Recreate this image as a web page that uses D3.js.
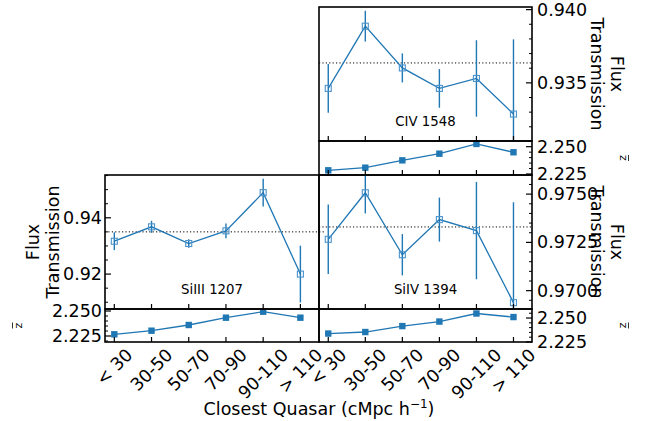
<!DOCTYPE html>
<html><head><meta charset="utf-8">
<script src="https://cdn.jsdelivr.net/npm/d3@7"></script>
<style>body{margin:0;background:#fff} text{font-family:"DejaVu Sans",sans-serif;fill:#000}</style>
</head><body><svg id="c" width="651" height="421"></svg>
<script>
// ---------------- data ----------------
const categories = ["< 30", "30-50", "50-70", "70-90", "90-110", "> 110"];

const civFlux = [0.93462, 0.93887, 0.93602, 0.93462, 0.93530, 0.93287];
const civErr  = [0.00166, 0.00105, 0.00099, 0.00132, 0.00261, 0.00510];
const civMean = 0.93636;
const civZ    = [2.2284, 2.2308, 2.2375, 2.2436, 2.2525, 2.2449];

const siiiiFlux = [0.93168, 0.93679, 0.93086, 0.93536, 0.94893, 0.92000];
const siiiiErr  = [0.00316, 0.00214, 0.00150, 0.00260, 0.00490, 0.01010];
const siiiiMean = 0.9350;
const siiiiZ    = [2.2267, 2.2303, 2.2360, 2.2433, 2.2493, 2.2433];

const sivFlux = [0.97266, 0.97507, 0.97186, 0.97368, 0.97311, 0.96938];
const sivErr  = [0.00180, 0.00107, 0.00107, 0.00114, 0.00252, 0.00520];
const sivMean = 0.9733;
const sivZ    = [2.2338, 2.2354, 2.2416, 2.2463, 2.2547, 2.2510];

const zTicks = [2.225, 2.250];

// ---------------- drawing ----------------
const svg = d3.select("#c");
const blue = "#1f77b4";
const FS = 17.5;
let clipId = 0;

function addClip(x0, y0, x1, y1) {
  const id = "clip" + (clipId++);
  svg.append("clipPath").attr("id", id).append("rect")
    .attr("x", x0).attr("y", y0).attr("width", x1 - x0).attr("height", y1 - y0);
  return "url(#" + id + ")";
}

function yAxis(scale, majors, minorStep, fmt, side, x0, x1) {
  const g = svg.append("g");
  const d = scale.domain();
  const minors = d3.range(Math.ceil(Math.min(...d) / minorStep - 1e-6) * minorStep, Math.max(...d) + 1e-9, minorStep)
    .filter(v => !majors.some(m => Math.abs(m - v) < minorStep / 10));
  const edge = side === "left" ? x0 : x1;
  const dir = side === "left" ? 1 : -1;
  minors.forEach(v => {
    g.append("line").attr("x1", edge).attr("x2", edge + dir * 3)
      .attr("y1", scale(v)).attr("y2", scale(v)).attr("stroke", "#000").attr("stroke-width", 1);
  });
  majors.forEach(v => {
    g.append("line").attr("x1", edge).attr("x2", edge + dir * 6)
      .attr("y1", scale(v)).attr("y2", scale(v)).attr("stroke", "#000").attr("stroke-width", 1.2);
    g.append("text").attr("x", side === "left" ? edge - 3 : edge + 5).attr("y", scale(v))
      .attr("text-anchor", side === "left" ? "end" : "start")
      .attr("dominant-baseline", "central").attr("font-size", FS).text(d3.format(fmt)(v));
  });
}

function xTicks(xs, y) {
  categories.forEach((c, i) => {
    svg.append("line").attr("x1", xs(i)).attr("x2", xs(i)).attr("y1", y).attr("y2", y - 5)
      .attr("stroke", "#000").attr("stroke-width", 1.2);
  });
}

function spine(x0, y0, x1, y1) {
  svg.append("rect").attr("x", x0).attr("y", y0).attr("width", x1 - x0).attr("height", y1 - y0)
    .attr("fill", "none").attr("stroke", "#000").attr("stroke-width", 1.6);
}

function zbar(x, y, rot) {
  const g = svg.append("g").attr("transform", `translate(${x},${y}) rotate(${rot})`);
  g.append("text").attr("x", 0).attr("y", 3.5).attr("text-anchor", "middle")
    .attr("font-size", 11).text("z");
  g.append("line").attr("x1", -3).attr("x2", 3).attr("y1", -5.5).attr("y2", -5.5)
    .attr("stroke", "#000").attr("stroke-width", 0.8);
}

function panel(o) {
  const xs = d3.scaleLinear().domain([-0.25, 5.5]).range([o.x0, o.x1]);
  const ys = d3.scaleLinear().domain(o.fluxDomain).range([o.yb, o.yt]);
  const zs = d3.scaleLinear().domain(o.zDomain).range([o.zb, o.yb]);

  // mean dotted line
  svg.append("line").attr("x1", o.x0).attr("x2", o.x1 + (o.dotExt || 0))
    .attr("y1", ys(o.mean)).attr("y2", ys(o.mean))
    .attr("stroke", "#000").attr("stroke-width", 1).attr("stroke-dasharray", "1.2,2.2");

  const gm = svg.append("g").attr("clip-path", addClip(o.x0, o.yt, o.x1, o.yb));
  o.flux.forEach((v, i) => {
    gm.append("line").attr("x1", xs(i)).attr("x2", xs(i))
      .attr("y1", ys(v - o.err[i])).attr("y2", ys(v + o.err[i]))
      .attr("stroke", blue).attr("stroke-width", 1.4);
  });
  gm.append("path").datum(o.flux)
    .attr("d", d3.line().x((d, i) => xs(i)).y(d => ys(d)))
    .attr("fill", "none").attr("stroke", blue).attr("stroke-width", 1.3);
  gm.selectAll(null).data(o.flux).enter().append("rect")
    .attr("x", (d, i) => xs(i) - 3).attr("y", d => ys(d) - 3)
    .attr("width", 6).attr("height", 6)
    .attr("fill", "none").attr("stroke", "#4a93cc").attr("stroke-width", 1.1);

  svg.append("text").attr("x", (o.x0 + o.x1) / 2).attr("y", o.yt + 0.885 * (o.yb - o.yt))
    .attr("text-anchor", "middle").attr("font-size", 13.3).text(o.label);

  const gz = svg.append("g").attr("clip-path", addClip(o.x0, o.yb, o.x1, o.zb));
  gz.append("path").datum(o.z)
    .attr("d", d3.line().x((d, i) => xs(i)).y(d => zs(d)))
    .attr("fill", "none").attr("stroke", blue).attr("stroke-width", 1.3);
  gz.selectAll(null).data(o.z).enter().append("rect")
    .attr("x", (d, i) => xs(i) - 3.2).attr("y", d => zs(d) - 3.2)
    .attr("width", 6.4).attr("height", 6.4).attr("fill", blue);

  yAxis(ys, o.fluxMajors, o.minorStep, o.fmt, o.side, o.x0, o.x1);
  yAxis(zs, zTicks, 0.005, ".3f", o.side, o.x0, o.x1);
  xTicks(xs, o.yb);
  xTicks(xs, o.zb);
  spine(o.x0, o.yt, o.x1, o.yb);
  spine(o.x0, o.yb, o.x1, o.zb);

  const ymid = (o.yt + o.yb) / 2, zmid = (o.yb + o.zb) / 2;
  if (o.side === "right") {
    const g = svg.append("g").attr("transform", `translate(607,${ymid}) rotate(90)`);
    g.append("text").attr("y", -10).attr("text-anchor", "middle").attr("dominant-baseline", "central").attr("font-size", FS).text("Flux");
    g.append("text").attr("y", 10).attr("text-anchor", "middle").attr("dominant-baseline", "central").attr("font-size", FS).text("Transmission");
    zbar(623, zmid, 90);
  } else {
    const g = svg.append("g").attr("transform", `translate(43,${ymid}) rotate(-90)`);
    g.append("text").attr("y", -10).attr("text-anchor", "middle").attr("dominant-baseline", "central").attr("font-size", FS).text("Flux");
    g.append("text").attr("y", 10).attr("text-anchor", "middle").attr("dominant-baseline", "central").attr("font-size", FS).text("Transmission");
    zbar(18, zmid, -90);
  }

  if (o.xlabels) {
    categories.forEach((c, i) => {
      const t = svg.append("text").attr("font-size", FS).attr("text-anchor", "middle")
        .attr("dominant-baseline", "central").text(c);
      const w = t.node().getComputedTextLength();
      const h = FS * 0.95;
      const bh = (w + h) * Math.SQRT1_2;
      t.attr("transform", `translate(${xs(i)},${o.zb + 4 + bh / 2}) rotate(-45)`);
    });
  }
}

panel({ x0: 319, x1: 532, yt: 7, yb: 141, zb: 175, side: "right",
  flux: civFlux, err: civErr, mean: civMean, z: civZ,
  fluxDomain: [0.93103, 0.94018], fluxMajors: [0.935, 0.940], minorStep: 0.001, fmt: ".3f",
  zDomain: [2.2241, 2.2552], label: "CIV 1548", xlabels: false });

panel({ x0: 105, x1: 319, yt: 175, yb: 309, zb: 342, side: "left",
  flux: siiiiFlux, err: siiiiErr, mean: siiiiMean, z: siiiiZ, dotExt: 7,
  fluxDomain: [0.9076, 0.9552], fluxMajors: [0.92, 0.94], minorStep: 0.005, fmt: ".2f",
  zDomain: [2.219, 2.252], label: "SiIII 1207", xlabels: true });

panel({ x0: 319, x1: 532, yt: 175, yb: 309, zb: 342, side: "right",
  flux: sivFlux, err: sivErr, mean: sivMean, z: sivZ,
  fluxDomain: [0.96905, 0.97599], fluxMajors: [0.970, 0.9725, 0.975], minorStep: 0.0005, fmt: ".4f",
  zDomain: [2.225, 2.2594], label: "SiIV 1394", xlabels: true });

const xl = svg.append("text").attr("x", 319).attr("y", 415).attr("text-anchor", "middle").attr("font-size", FS);
xl.append("tspan").text("Closest Quasar (cMpc h");
xl.append("tspan").attr("dy", -7).attr("font-size", 12).text("\u22121");
xl.append("tspan").attr("dy", 7).text(")");
</script></body></html>
